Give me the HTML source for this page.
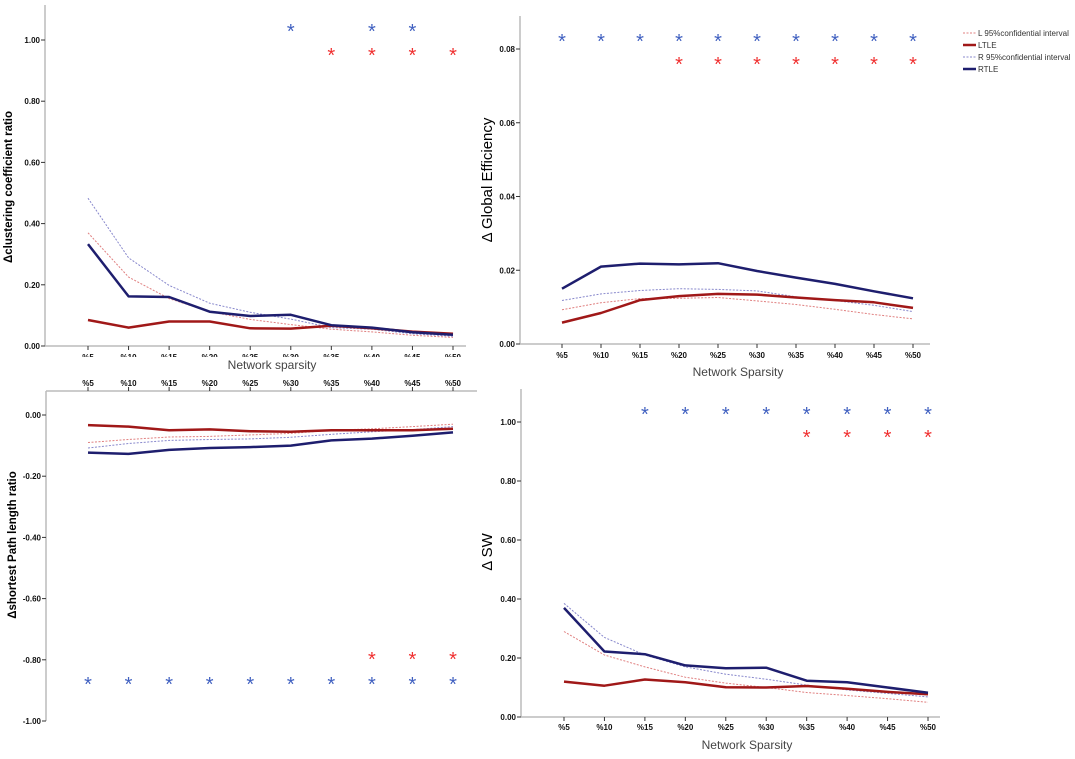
<!DOCTYPE html>
<html><head><meta charset="utf-8"><style>
html,body{margin:0;padding:0;background:#fff;width:1075px;height:759px;overflow:hidden}
svg{display:block}
text{font-family:"Liberation Sans",sans-serif}
.tk{font-size:8px;font-weight:bold;fill:#111}
</style></head><body>
<svg id="chart" width="1075" height="759" viewBox="0 0 1075 759" xmlns="http://www.w3.org/2000/svg">
<g font-size="8" fill="#333">
 <line x1="963" y1="33" x2="976" y2="33" stroke="#e08080" stroke-width="1" stroke-dasharray="2,1.5"/>
 <text x="978" y="36">L 95%confidential interval</text>
 <line x1="963" y1="45" x2="976" y2="45" stroke="#a01818" stroke-width="2.5"/>
 <text x="978" y="48">LTLE</text>
 <line x1="963" y1="57" x2="976" y2="57" stroke="#8888cc" stroke-width="1" stroke-dasharray="2,1.5"/>
 <text x="978" y="60">R 95%confidential interval</text>
 <line x1="963" y1="69" x2="976" y2="69" stroke="#1e1e6e" stroke-width="2.5"/>
 <text x="978" y="72">RTLE</text>
</g>
</svg>
<script>
const categories = ["%5","%10","%15","%20","%25","%30","%35","%40","%45","%50"];

const ccRTLE = [0.333,0.162,0.16,0.112,0.098,0.102,0.068,0.06,0.045,0.037];
const ccLTLE = [0.085,0.06,0.08,0.08,0.058,0.057,0.066,0.058,0.047,0.04];
const ccRCI = [0.483,0.288,0.198,0.14,0.11,0.088,0.06,0.055,0.04,0.032];
const ccLCI = [0.37,0.225,0.155,0.112,0.087,0.07,0.055,0.046,0.035,0.028];
const ccBlueStars = ["%30","%40","%45"];
const ccRedStars = ["%35","%40","%45","%50"];
const ccTicks = [0,0.2,0.4,0.6,0.8,1.0];

const geRTLE = [0.015,0.021,0.0218,0.0216,0.0219,0.0198,0.018,0.0163,0.0143,0.0124];
const geLTLE = [0.0058,0.0084,0.0119,0.013,0.0136,0.0134,0.0126,0.0119,0.0113,0.0098];
const geRCI = [0.0118,0.0136,0.0145,0.015,0.0148,0.0144,0.0128,0.0118,0.0105,0.0088];
const geLCI = [0.0093,0.0112,0.0123,0.0124,0.0126,0.0117,0.0107,0.0094,0.008,0.0068];
const geBlueStars = ["%5","%10","%15","%20","%25","%30","%35","%40","%45","%50"];
const geRedStars = ["%20","%25","%30","%35","%40","%45","%50"];
const geTicks = [0,0.02,0.04,0.06,0.08];

const plRTLE = [-0.123,-0.127,-0.114,-0.108,-0.105,-0.1,-0.083,-0.077,-0.068,-0.057];
const plLTLE = [-0.033,-0.038,-0.05,-0.047,-0.053,-0.055,-0.05,-0.05,-0.05,-0.045];
const plRCI = [-0.108,-0.093,-0.083,-0.08,-0.078,-0.073,-0.063,-0.055,-0.048,-0.038];
const plLCI = [-0.09,-0.08,-0.072,-0.07,-0.065,-0.06,-0.05,-0.045,-0.038,-0.03];
const plBlueStars = ["%5","%10","%15","%20","%25","%30","%35","%40","%45","%50"];
const plRedStars = ["%40","%45","%50"];
const plTicks = [0,-0.2,-0.4,-0.6,-0.8,-1.0];

const swRTLE = [0.37,0.222,0.213,0.175,0.165,0.167,0.123,0.118,0.1,0.082];
const swLTLE = [0.12,0.106,0.127,0.118,0.101,0.1,0.105,0.096,0.085,0.077];
const swRCI = [0.385,0.27,0.21,0.17,0.145,0.128,0.108,0.092,0.08,0.068];
const swLCI = [0.29,0.21,0.17,0.135,0.115,0.1,0.083,0.073,0.062,0.05];
const swBlueStars = ["%15","%20","%25","%30","%35","%40","%45","%50"];
const swRedStars = ["%35","%40","%45","%50"];
const swTicks = [0,0.2,0.4,0.6,0.8,1.0];

const svg = document.getElementById('chart');
const NS = 'http://www.w3.org/2000/svg';
function mk(tag, attrs, parent){
  const e = document.createElementNS(NS, tag);
  for (const k in attrs) e.setAttribute(k, attrs[k]);
  parent.appendChild(e);
  return e;
}

function panel(cfg){
  const g = mk('g', {}, svg);
  
  
  const x = c => cfg.x0 + (cfg.x1 - cfg.x0) * categories.indexOf(c) / (categories.length - 1);
  const xi = i => cfg.x0 + (cfg.x1 - cfg.x0) * i / (categories.length - 1);
  const y = v => cfg.yZero + (cfg.yRef - cfg.yZero) * v / cfg.vRef;
  // axes
  const ya = mk('line', {x1:cfg.ax, y1:cfg.axTop, x2:cfg.ax, y2:cfg.axBot, stroke:'#bbb', 'stroke-width':1.5}, g);
  
  
  const xa = mk('line', {x1:cfg.ax, y1:cfg.xAxisY, x2:cfg.axRight, y2:cfg.xAxisY, stroke:'#bbb', 'stroke-width':1.5}, g);
  
  
  cfg.ticks.forEach(t => {
    mk('line', {x1:cfg.ax-4, y1:y(t), x2:cfg.ax, y2:y(t), stroke:'#333', 'stroke-width':1}, g);
    const tl = mk('text', {x:cfg.ax-5, y:y(t)+3, 'text-anchor':'end', class:'tk'}, g);
    tl.textContent = (t < 0 ? '-' : '') + Math.abs(t).toFixed(2);
    
    
  });
  categories.forEach((c, i) => {
    const d = cfg.topAxis ? -1 : 1;
    mk('line', {x1:xi(i), y1:cfg.xAxisY, x2:xi(i), y2:cfg.xAxisY + 4*d, stroke:'#333', 'stroke-width':1}, g);
    const tl = mk('text', {x:xi(i), y:cfg.xLabY, 'text-anchor':'middle', class:'tk'}, g);
    tl.textContent = c;
    
    
  });
  if (cfg.clipLabels) mk('rect', {x:cfg.ax, y:357, width:430, height:5, fill:'#fff'}, g);
  if (cfg.xTitle){
    const xt = mk('text', {x:cfg.xTitleX, y:cfg.xTitleY, 'text-anchor':'middle', 'font-size':12, fill:'#444'}, g);
    xt.textContent = cfg.xTitle;
    
    
  }
  const yt = mk('text', {transform:`translate(${cfg.yTitleX},${cfg.yTitleY}) rotate(-90)`, 'text-anchor':'middle', 'font-size':cfg.yTitleSize, 'font-weight':cfg.yTitleBold?'bold':'normal', fill:'#000'}, g);
  yt.textContent = cfg.yTitle;
  
  
  const series = [
    [cfg.lci, '#e08080', 1, '2,1.5', 'line-l-ci'],
    [cfg.rci, '#8888cc', 1, '2,1.5', 'line-r-ci'],
    [cfg.ltle, '#a01818', 2.5, '', 'line-ltle'],
    [cfg.rtle, '#1e1e6e', 2.5, '', 'line-rtle']
  ];
  series.forEach(s => {
    const pts = s[0].map((v, i) => xi(i).toFixed(1) + ',' + y(v).toFixed(1)).join(' ');
    const pl = mk('polyline', {points:pts, fill:'none', stroke:s[1], 'stroke-width':s[2], 'stroke-dasharray':s[3], 'stroke-linejoin':'round'}, g);
    
    
  });
  cfg.blue.forEach(c => {
    const st = mk('text', {x:x(c), y:cfg.blueY+9, 'text-anchor':'middle', 'font-size':20, fill:'#4060c0'}, g);
    st.textContent = '*';
    
    
  });
  cfg.red.forEach(c => {
    const st = mk('text', {x:x(c), y:cfg.redY+9, 'text-anchor':'middle', 'font-size':20, fill:'#f03030'}, g);
    st.textContent = '*';
    
    
  });
}

panel({name:'clustering-coefficient-panel', x0:88, x1:453, ax:45, axTop:5, axBot:346, xAxisY:346, axRight:466,
  yZero:346, yRef:40, vRef:1, ticks:ccTicks, xLabY:360, clipLabels:true,
  xTitle:'Network sparsity', xTitleX:272, xTitleY:369,
  yTitle:'Δclustering coefficient ratio', yTitleX:12, yTitleY:187, yTitleSize:11.5, yTitleBold:true,
  rtle:ccRTLE, ltle:ccLTLE, rci:ccRCI, lci:ccLCI, blue:ccBlueStars, red:ccRedStars, blueY:29, redY:53});

panel({name:'global-efficiency-panel', x0:562, x1:913, ax:520, axTop:16, axBot:344, xAxisY:344, axRight:930,
  yZero:344, yRef:49, vRef:0.08, ticks:geTicks, xLabY:358,
  xTitle:'Network Sparsity', xTitleX:738, xTitleY:376,
  yTitle:'Δ Global Efficiency', yTitleX:492, yTitleY:180, yTitleSize:15, yTitleBold:false,
  rtle:geRTLE, ltle:geLTLE, rci:geRCI, lci:geLCI, blue:geBlueStars, red:geRedStars, blueY:39, redY:62});

panel({name:'shortest-path-panel', x0:88, x1:453, ax:46, axTop:391, axBot:721, xAxisY:391, axRight:477, topAxis:true,
  yZero:415, yRef:721, vRef:-1, ticks:plTicks, xLabY:386,
  yTitle:'Δshortest Path length ratio', yTitleX:16, yTitleY:545, yTitleSize:11.5, yTitleBold:true,
  rtle:plRTLE, ltle:plLTLE, rci:plRCI, lci:plLCI, blue:plBlueStars, red:plRedStars, blueY:682, redY:657});

panel({name:'small-world-panel', x0:564, x1:928, ax:521, axTop:389, axBot:717, xAxisY:717, axRight:940,
  yZero:717, yRef:422, vRef:1, ticks:swTicks, xLabY:730,
  xTitle:'Network Sparsity', xTitleX:747, xTitleY:749,
  yTitle:'Δ SW', yTitleX:492, yTitleY:552, yTitleSize:15, yTitleBold:false,
  rtle:swRTLE, ltle:swLTLE, rci:swRCI, lci:swLCI, blue:swBlueStars, red:swRedStars, blueY:412, redY:435});
</script>
</body></html>
